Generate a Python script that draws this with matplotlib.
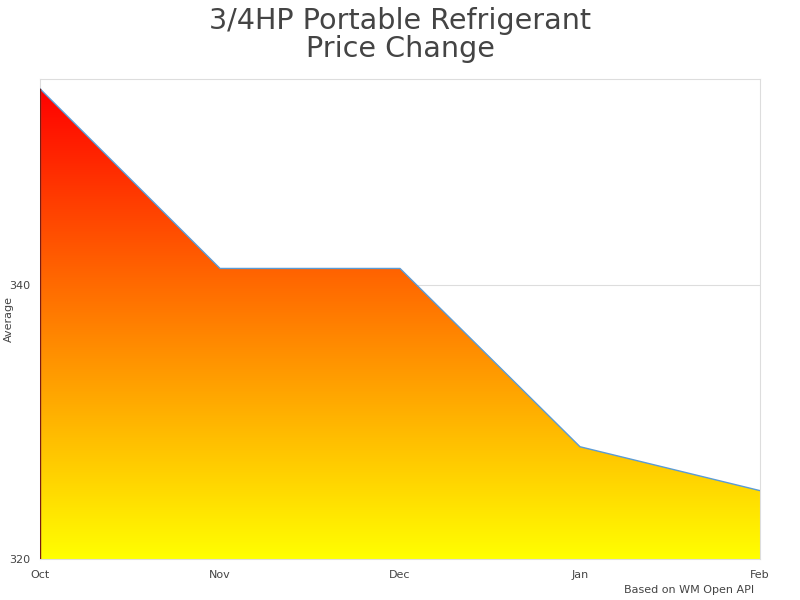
import numpy as np
import matplotlib.pyplot as plt
from matplotlib.colors import LinearSegmentedColormap
from matplotlib.patches import Polygon

months = ["Oct", "Nov", "Dec", "Jan", "Feb"]
average = [354.3, 341.2, 341.2, 328.2, 325.0]
y_ticks = [320, 340]

fig = plt.figure(figsize=(8, 6), dpi=100)
ax = fig.add_axes([0.05, 0.068, 0.9, 0.8])

x = np.arange(len(months))
ymin, ymax = 320, 355

# gradient fill under the line: red at top, yellow at bottom
cmap = LinearSegmentedColormap.from_list("ry", ["#ffff00", "#ff0000"])
grad = np.linspace(0, 1, 256).reshape(-1, 1)
img = ax.imshow(grad, cmap=cmap, aspect="auto", origin="lower",
                extent=[x[0], x[-1], ymin, max(average)], zorder=2)
poly = Polygon(list(zip(x, average)) + [(x[-1], ymin), (x[0], ymin)],
               closed=True, facecolor="none", edgecolor="none")
ax.add_patch(poly)
img.set_clip_path(poly)
ax.plot(x, average, color="#5b9bd5", lw=1, zorder=3)
ax.plot([x[0], x[0]], [ymin, average[0]], color="#7a1a10", lw=1, zorder=3)

ax.set_xlim(x[0], x[-1])
ax.set_ylim(ymin, ymax)
ax.set_yticks(y_ticks)
ax.set_xticks(x)
ax.set_xticklabels(months)
ax.tick_params(length=0, labelsize=8, colors="#444444", pad=8)
ax.tick_params(axis="y", pad=7)
ax.grid(axis="y", color="#dddddd", lw=0.8, zorder=1)
for s in ax.spines.values():
    s.set_color("#dddddd")
ax.set_ylabel("Average", fontsize=8, color="#444444")
ax.yaxis.set_label_coords(-0.036, 0.5)

fig.suptitle("3/4HP Portable Refrigerant\nPrice Change", fontsize=20.6,
             color="#444444", y=0.988, linespacing=1.0)
fig.text(0.943, 0.008, "Based on WM Open API", fontsize=8, color="#444444",
         ha="right", va="bottom")

fig.savefig("out.png")
